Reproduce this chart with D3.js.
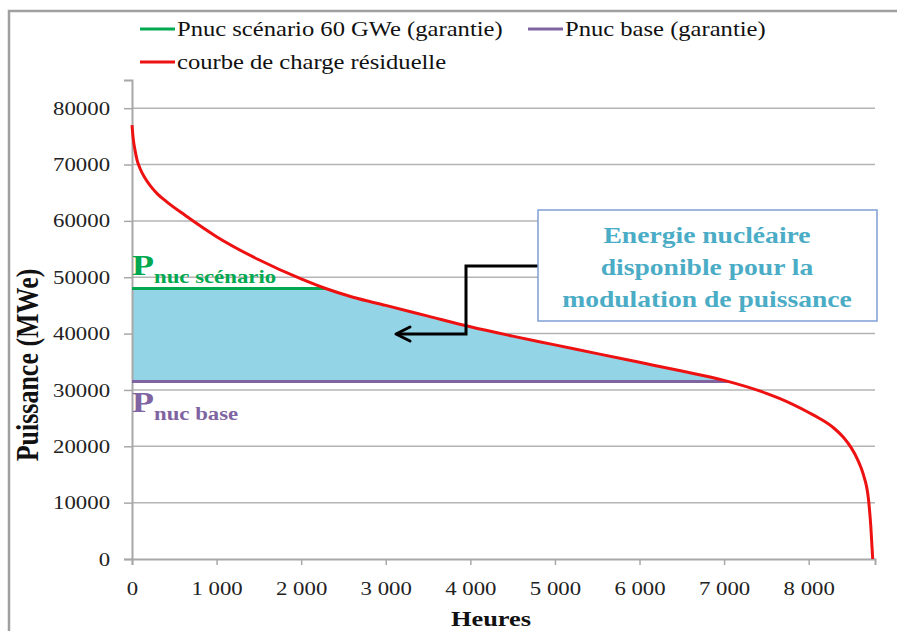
<!DOCTYPE html>
<html>
<head>
<meta charset="utf-8">
<script src="https://cdn.jsdelivr.net/npm/d3@7"></script>
<style>
  body { margin: 0; background: #fff; }
  svg text { font-family: "Liberation Serif", "Times New Roman", serif; }
</style>
</head>
<body>
<div id="chart"></div>
<script>
var w = 897;
var h = 631;

// residual load duration curve (hours, MWe)
var hours = [0, 15, 35, 60, 95, 150, 213, 300, 400, 627, 1000, 1500, 2000, 2290, 2613, 3000,
             3500, 4000, 4500, 5000, 5500, 6000, 6500, 7000, 7500, 7661, 8000, 8134, 8300,
             8410, 8500, 8580, 8646, 8706, 8734, 8757];
var load = [77000, 74500, 72600, 70800, 69300, 67700, 66300, 64800, 63500, 61000, 57200, 53100,
            49700, 48000, 46450, 45000, 43100, 41200, 39550, 38000, 36450, 34900, 33350, 31700,
            29400, 28450, 26000, 24900, 23200, 21600, 19800, 17600, 15000, 10700, 5900, 0];

var pScenario = 48000;
var pBase = 31500;

var xTicks = [0, 1000, 2000, 3000, 4000, 5000, 6000, 7000, 8000];
var yTicks = [0, 10000, 20000, 30000, 40000, 50000, 60000, 70000, 80000];

var legendLabels = ["Pnuc scénario 60 GWe (garantie)", "Pnuc base (garantie)", "courbe de charge résiduelle"];
var legendColors = ["#00a850", "#8064a2", "#ee1111"];
var noteLines = ["Energie nucléaire", "disponible pour la", "modulation de puissance"];

// the source picture is stretched sideways, so is the text
var stretch = "scale(1.2,1)";

var svg = d3.select("#chart")
            .append("svg")
                .attr("width", w)
                .attr("height", h);

// outer frame
svg.append("rect")
    .attr("x", 9).attr("y", 11)
    .attr("width", w + 20).attr("height", h + 20)
    .attr("fill", "none")
    .attr("stroke", "#a0a0a0")
    .attr("stroke-width", 2.5);

var x = d3.scaleLinear().domain([0, 8784]).range([132, 875]);
var y = d3.scaleLinear().domain([0, 85000]).range([559, 80]);

// gridlines
svg.append("g")
    .selectAll("line")
    .data(yTicks.filter(function(d) { return d > 0; }))
    .enter()
        .append("line")
        .attr("x1", x(0)).attr("x2", x(8784))
        .attr("y1", function(d) { return y(d); })
        .attr("y2", function(d) { return y(d); })
        .attr("stroke", "#b4b4b4")
        .attr("stroke-width", 1.5);

var pts = hours.map(function(d, i) { return [d, load[i]]; });

// where the curve drops under a level (linear between read points)
function crossing(level) {
    for (var i = 1; i < pts.length; i++) {
        if (pts[i][1] <= level) {
            var a = pts[i - 1], b = pts[i];
            return a[0] + (a[1] - level) / (a[1] - b[1]) * (b[0] - a[0]);
        }
    }
    return pts[pts.length - 1][0];
}

var xScen = crossing(pScenario);
var xBase = crossing(pBase);

// filled band between the two levels, under the curve
var band = [[0, pScenario], [xScen, pScenario]]
    .concat(pts.filter(function(d) { return d[0] > xScen && d[0] < xBase; }))
    .concat([[xBase, pBase]]);

var area = d3.area()
    .x(function(d) { return x(d[0]); })
    .y0(y(pBase))
    .y1(function(d) { return y(d[1]); })
    .curve(d3.curveMonotoneX);

svg.append("path")
    .datum(band)
    .attr("d", area)
    .attr("fill", "#93d4e6");

// axes
var xAxis = d3.axisBottom(x)
    .tickValues(xTicks)
    .tickSize(6)
    .tickFormat(function(d) { return d3.format(",")(d).replace(",", " "); });

var gx = svg.append("g")
    .attr("transform", "translate(0," + y(0) + ")")
    .call(xAxis);
gx.select(".domain").attr("stroke", "#a8a8a8").attr("stroke-width", 2);
gx.selectAll(".tick line").attr("stroke", "#a8a8a8").attr("stroke-width", 1.5);
gx.selectAll(".tick text")
    .attr("y", 36)
    .attr("dy", 0)
    .attr("transform", stretch)
    .attr("font-size", 19)
    .attr("font-family", "Liberation Serif")
    .attr("fill", "#222");

var yAxis = d3.axisLeft(y)
    .tickValues(yTicks)
    .tickSize(8)
    .tickPadding(14)
    .tickFormat(d3.format("d"));

var gy = svg.append("g")
    .attr("transform", "translate(" + x(0) + ",0)")
    .call(yAxis);
gy.select(".domain").attr("stroke", "#a8a8a8").attr("stroke-width", 2);
gy.selectAll(".tick line").attr("stroke", "#a8a8a8").attr("stroke-width", 1.5);
gy.selectAll(".tick text")
    .attr("x", -22 / 1.2)
    .attr("transform", stretch)
    .attr("font-size", 19)
    .attr("font-family", "Liberation Serif")
    .attr("fill", "#222");

// level lines
svg.append("line")
    .attr("x1", x(0)).attr("x2", x(xScen))
    .attr("y1", y(pScenario)).attr("y2", y(pScenario))
    .attr("stroke", legendColors[0])
    .attr("stroke-width", 3);

svg.append("line")
    .attr("x1", x(0)).attr("x2", x(xBase))
    .attr("y1", y(pBase)).attr("y2", y(pBase))
    .attr("stroke", legendColors[1])
    .attr("stroke-width", 3);

// residual load curve
var line = d3.line()
    .x(function(d) { return x(d[0]); })
    .y(function(d) { return y(d[1]); })
    .curve(d3.curveMonotoneX);

svg.append("path")
    .datum(pts)
    .attr("d", line)
    .attr("fill", "none")
    .attr("stroke", legendColors[2])
    .attr("stroke-width", 3);

// P labels
function pLabel(sub, ty, color) {
    var t = svg.append("text")
        .attr("transform", "translate(" + x(0) + "," + ty + ") " + stretch)
        .attr("font-weight", "bold")
        .attr("fill", color);
    t.append("tspan").attr("font-size", 30).text("P");
    t.append("tspan").attr("font-size", 19).attr("dy", 8).text(sub);
}
pLabel("nuc scénario", y(pScenario) - 14, legendColors[0]);
pLabel("nuc base", y(pBase) + 31, legendColors[1]);

// legend
var legendPos = [[140, 29], [528, 29], [140, 62]];
var legend = svg.selectAll("g.legend")
    .data(legendLabels)
    .enter()
        .append("g")
        .attr("class", "legend")
        .attr("transform", function(d, i) { return "translate(" + legendPos[i][0] + "," + legendPos[i][1] + ")"; });

legend.append("line")
    .attr("x1", 0).attr("x2", 35)
    .attr("stroke", function(d, i) { return legendColors[i]; })
    .attr("stroke-width", 3);

legend.append("text")
    .attr("transform", "translate(37,0) " + stretch)
    .attr("dy", "0.33em")
    .attr("font-size", 20.5)
    .attr("fill", "#111")
    .text(function(d) { return d; });

// axis titles
svg.append("text")
    .attr("transform", "translate(491,626) " + stretch)
    .attr("text-anchor", "middle")
    .attr("font-size", 22)
    .attr("font-weight", "bold")
    .attr("fill", "#111")
    .text("Heures");

svg.append("text")
    .attr("transform", "translate(38,365) " + stretch + " rotate(-90)")
    .attr("text-anchor", "middle")
    .attr("font-size", 26)
    .attr("font-weight", "bold")
    .attr("fill", "#111")
    .text("Puissance (MWe)");

// annotation arrow
svg.append("path")
    .attr("d", "M538,266 H466 V334 H397")
    .attr("fill", "none")
    .attr("stroke", "#000")
    .attr("stroke-width", 3);

svg.append("path")
    .attr("d", "M410,327 L396,334 L410,341")
    .attr("fill", "none")
    .attr("stroke", "#000")
    .attr("stroke-width", 3)
    .attr("stroke-linecap", "round")
    .attr("stroke-linejoin", "round");

// annotation box
svg.append("rect")
    .attr("x", 538).attr("y", 210)
    .attr("width", 339).attr("height", 111)
    .attr("fill", "#fff")
    .attr("stroke", "#7f9fd6")
    .attr("stroke-width", 1.5);

svg.append("g")
    .selectAll("text")
    .data(noteLines)
    .enter()
        .append("text")
        .attr("transform", function(d, i) { return "translate(707," + (243 + i * 32) + ") " + stretch; })
        .attr("text-anchor", "middle")
        .attr("font-size", 23)
        .attr("font-weight", "bold")
        .attr("fill", "#4bacc6")
        .text(function(d) { return d; });
</script>
</body>
</html>
